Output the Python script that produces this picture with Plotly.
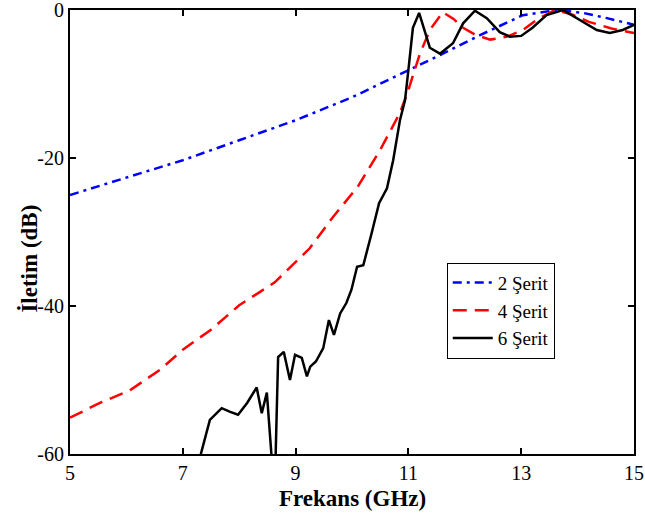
import plotly.graph_objects as go

# 2 Şerit
f2 = [5.0, 6.0, 7.0, 8.0, 9.0, 10.0, 10.5, 11.0, 11.56, 12.27, 13.03, 13.63, 14.1, 14.52, 15.0]
s2 = [-25.0, -22.7, -20.3, -17.6, -14.9, -11.8, -10.0, -8.1, -6.1, -3.4, -0.7, 0.0, -0.4, -1.1, -2.0]

# 4 Şerit
f4 = [5.0, 5.53, 6.06, 6.6, 7.0, 7.5, 8.0, 8.37, 8.63, 9.25, 9.66, 10.1, 10.5, 10.85, 11.0, 11.2, 11.38,
      11.61, 11.8, 11.97, 12.2, 12.45, 12.75, 13.03, 13.3, 13.6, 13.9, 14.2, 14.6, 15.0]
s4 = [-55.1, -53.1, -51.4, -48.6, -45.9, -43.2, -39.9, -38.1, -36.8, -32.2, -28.0, -23.9, -18.9, -13.9,
      -10.8, -6.0, -2.7, -0.3, -1.2, -2.4, -3.4, -4.0, -3.6, -2.7, -1.2, 0.0, -0.6, -1.6, -2.5, -3.1]

# 6 Şerit
f6 = [7.28, 7.32, 7.48, 7.69, 7.84, 7.98, 8.14, 8.31, 8.40, 8.49, 8.59, 8.64, 8.69, 8.79, 8.90, 8.99,
      9.11, 9.20, 9.26, 9.36, 9.49, 9.59, 9.68, 9.79, 9.90, 9.99, 10.09, 10.20, 10.35, 10.48, 10.62,
      10.73, 10.85, 10.94, 11.0, 11.08, 11.19, 11.30, 11.38, 11.56, 11.79, 11.97, 12.18, 12.39, 12.62,
      12.80, 13.0, 13.2, 13.45, 13.74, 14.09, 14.34, 14.57, 14.8, 15.0]
s6 = [-62.0, -60.0, -55.4, -53.8, -54.3, -54.7, -53.1, -51.0, -54.5, -51.7, -62.0, -62.0, -46.9, -46.2,
      -50.0, -46.6, -47.0, -49.5, -48.2, -47.5, -45.7, -41.9, -43.9, -41.0, -39.6, -37.8, -34.7, -34.5,
      -30.1, -26.1, -24.1, -20.3, -14.9, -12.2, -8.1, -2.4, -0.4, -3.1, -5.1, -5.9, -4.5, -1.8, -0.1,
      -1.1, -3.0, -3.6, -3.5, -2.4, -0.7, 0.0, -1.6, -2.7, -3.1, -2.7, -2.0]

xticks = [5, 7, 9, 11, 13, 15]
yticks = [-60, -40, -20, 0]

FONT = "'Liberation Serif', 'Times New Roman', Times, serif"

fig = go.Figure()
fig.add_trace(go.Scatter(x=f2, y=s2, mode="lines", name="2 Şerit",
                         line=dict(color="#0000ff", width=2.5, dash="9px,5px,3px,5px")))
fig.add_trace(go.Scatter(x=f4, y=s4, mode="lines", name="4 Şerit",
                         line=dict(color="#ff0000", width=2.5, dash="14px,8px")))
fig.add_trace(go.Scatter(x=f6, y=s6, mode="lines", name="6 Şerit",
                         line=dict(color="#000000", width=2.5)))

axis_common = dict(showgrid=False, zeroline=False, showline=True, linecolor="black", linewidth=2,
                   mirror="ticks", ticks="inside", ticklen=6, tickwidth=1.5, tickcolor="black",
                   automargin=False, ticklabeloverflow="allow",
                   tickfont=dict(family=FONT, size=20, color="black"))

fig.update_layout(
    width=645, height=517,
    margin=dict(l=70, r=11, t=10, b=63),
    paper_bgcolor="white", plot_bgcolor="white",
    font=dict(family=FONT, color="black"),
    xaxis=dict(range=[5, 15], tickvals=xticks, ticktext=[str(v) for v in xticks],
               **axis_common),
    yaxis=dict(range=[-60, 0], tickvals=yticks, ticktext=[str(v) for v in yticks],
               **axis_common),
    legend=dict(x=0.668, y=0.431, xanchor="left", yanchor="top",
                bgcolor="white", bordercolor="black", borderwidth=1,
                font=dict(family=FONT, size=19, color="black"),
                itemwidth=40, tracegroupgap=0),
    showlegend=True,
    annotations=[
        dict(text="<b>İletim (dB)</b>", textangle=-90, xref="paper", yref="paper",
             x=-0.071, y=0.44, xanchor="center", yanchor="middle", showarrow=False,
             font=dict(family=FONT, size=23, color="black")),
        dict(text="<b>Frekans (GHz)</b>", xref="paper", yref="paper",
             x=0.5, y=-0.1, xanchor="center", yanchor="middle", showarrow=False,
             font=dict(family=FONT, size=23, color="black")),
    ],
)

fig.write_html("out.html",
               config={"displayModeBar": False},
               post_script="document.body.style.margin='0';document.body.style.overflow='hidden';")
